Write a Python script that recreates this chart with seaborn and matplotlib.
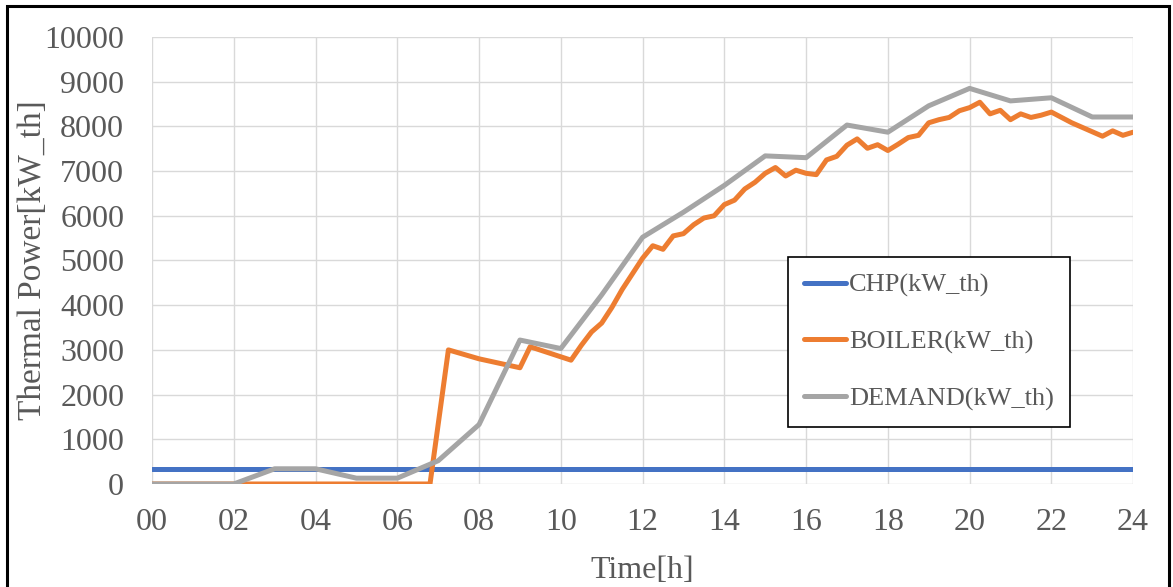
import numpy as np
import pandas as pd
import matplotlib
matplotlib.use("Agg")
import matplotlib.pyplot as plt
from matplotlib.patches import Rectangle
from matplotlib.lines import Line2D
import seaborn as sns

# ---------------- data ----------------
chp_time = [0, 24]
chp_vals = [340, 340]

demand_time = list(range(0, 25))
demand_vals = [0, 0, 0, 340, 340, 130, 130, 520, 1330, 3220, 3030, 4230, 5520,
               6080, 6680, 7340, 7300, 8030, 7870, 8460, 8850, 8570, 8640, 8210, 8210]

boiler_time = [0, 6.8, 7.25, 8, 9.0, 9.25, 10.25, 10.5, 10.75, 11, 11.25, 11.5, 11.75,
               12, 12.25, 12.5, 12.75, 13, 13.25, 13.5, 13.75, 14, 14.25, 14.5, 14.75,
               15, 15.25, 15.5, 15.75, 16, 16.25, 16.5, 16.75, 17, 17.25, 17.5, 17.75,
               18, 18.25, 18.5, 18.75, 19, 19.25, 19.5, 19.75, 20, 20.25, 20.5, 20.75,
               21, 21.25, 21.5, 21.75, 22, 22.25, 22.5, 22.75, 23, 23.25, 23.5, 23.75, 24]
boiler_vals = [0, 0, 3000, 2800, 2600, 3070, 2770, 3100, 3400, 3600, 3950, 4350, 4700,
               5050, 5330, 5250, 5550, 5600, 5800, 5950, 6000, 6250, 6350, 6600, 6750,
               6950, 7080, 6890, 7020, 6950, 6920, 7250, 7330, 7580, 7720, 7510, 7590,
               7460, 7600, 7750, 7800, 8080, 8150, 8200, 8350, 8420, 8540, 8280, 8360,
               8150, 8280, 8200, 8250, 8320, 8200, 8080, 7980, 7880, 7780, 7900, 7800, 7870]

labels = ["CHP(kW_th)", "BOILER(kW_th)", "DEMAND(kW_th)"]
colors = ["#4472C4", "#ED7D31", "#A5A5A5"]
x_ticks = list(range(0, 25, 2))
x_ticklabels = [f"{t:02d}" for t in x_ticks]
y_ticks = list(range(0, 10001, 1000))

df = pd.concat([
    pd.DataFrame({"time": chp_time, "value": chp_vals, "series": labels[0]}),
    pd.DataFrame({"time": boiler_time, "value": boiler_vals, "series": labels[1]}),
    pd.DataFrame({"time": demand_time, "value": demand_vals, "series": labels[2]}),
], ignore_index=True)

# ---------------- style ----------------
sns.set_theme(style="whitegrid")
plt.rcParams["font.family"] = ["Liberation Serif", "DejaVu Serif"]
text_color = "#595959"

fig = plt.figure(figsize=(11.73, 5.87), dpi=100)
ax = fig.add_axes([0.1296, 0.1755, 0.966 - 0.1296, 0.937 - 0.1755])

sns.lineplot(data=df, x="time", y="value", hue="series", hue_order=labels,
             palette=dict(zip(labels, colors)), linewidth=3.6, ax=ax,
             estimator=None, sort=False, legend=False)

ax.set_xlim(0, 24)
ax.set_ylim(0, 10000)
ax.set_xticks(x_ticks)
ax.set_xticklabels(x_ticklabels)
ax.set_yticks(y_ticks)
ax.grid(True, color="#D9D9D9", linewidth=1.0)
for s in ax.spines.values():
    s.set_visible(False)
ax.tick_params(axis="both", length=0, labelsize=23, colors=text_color)
ax.tick_params(axis="y", pad=20)
ax.tick_params(axis="x", pad=17)

ax.set_xlabel("Time[h]", fontsize=23, color=text_color)
ax.set_ylabel("Thermal Power[kW_th]", fontsize=24, color=text_color)
ax.xaxis.set_label_coords(0.5, -0.161)
ax.yaxis.set_label_coords(-0.106, 0.5)

handles = [Line2D([0], [0], color=c, lw=3.6) for c in colors]
leg = ax.legend(handles, labels, loc="upper left", bbox_to_anchor=(0.648, 0.508),
                fontsize=19, frameon=True, fancybox=False, edgecolor="black",
                framealpha=1, labelspacing=1.25, handlelength=1.6, handletextpad=0.1,
                borderpad=0.62, borderaxespad=0)
leg.get_frame().set_linewidth(1.2)
for t in leg.get_texts():
    t.set_color(text_color)

fig.patches.append(Rectangle((0.006, -0.02), 0.991, 0.99 + 0.02, transform=fig.transFigure,
                             fill=False, edgecolor="black", linewidth=2.2))

fig.savefig("out.png", dpi=100, facecolor="white")
